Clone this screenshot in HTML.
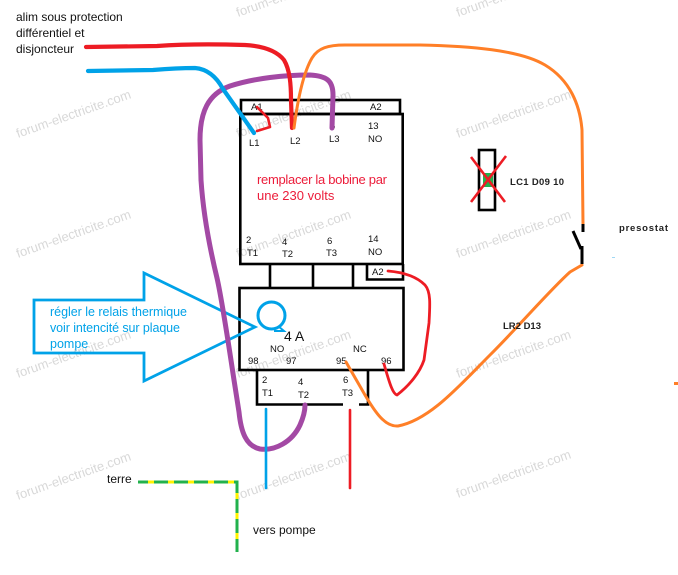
<!DOCTYPE html>
<html><head><meta charset="utf-8"><style>
html,body{margin:0;padding:0;background:#fff;width:678px;height:575px;overflow:hidden;}
svg{display:block;overflow:hidden;}
.wm{font-family:"Liberation Sans",sans-serif;font-size:13px;fill:#d8d8d8;}
.lb{font-family:"Liberation Sans",sans-serif;font-size:9.5px;fill:#111;}
</style></head><body>
<svg width="678" height="575" viewBox="0 0 678 575" xmlns="http://www.w3.org/2000/svg">
<rect width="678" height="575" fill="#fff"/>
<g class="wm">
<text transform="translate(18,138) rotate(-19.4)">forum-electricite.com</text>
<text transform="translate(18,258) rotate(-19.4)">forum-electricite.com</text>
<text transform="translate(18,378) rotate(-19.4)">forum-electricite.com</text>
<text transform="translate(18,500) rotate(-19.4)">forum-electricite.com</text>
<text transform="translate(238,17) rotate(-19.4)">forum-electricite.com</text>
<text transform="translate(238,138) rotate(-19.4)">forum-electricite.com</text>
<text transform="translate(238,258) rotate(-19.4)">forum-electricite.com</text>
<text transform="translate(238,378) rotate(-19.4)">forum-electricite.com</text>
<text transform="translate(238,500) rotate(-19.4)">forum-electricite.com</text>
<text transform="translate(458,17) rotate(-19.4)">forum-electricite.com</text>
<text transform="translate(458,138) rotate(-19.4)">forum-electricite.com</text>
<text transform="translate(458,258) rotate(-19.4)">forum-electricite.com</text>
<text transform="translate(458,378) rotate(-19.4)">forum-electricite.com</text>
<text transform="translate(458,498) rotate(-19.4)">forum-electricite.com</text>
</g>

<g font-family="Liberation Sans, sans-serif" font-size="12" fill="#111">
<text x="16" y="21">alim sous protection</text>
<text x="16" y="37">différentiel et</text>
<text x="16" y="53">disjoncteur</text>
<text x="107" y="483">terre</text>
<text x="253" y="534">vers pompe</text>
</g>

<g fill="none" stroke="#000" stroke-width="2.6">
<rect x="241" y="100" width="159" height="14"/>
<rect x="240.3" y="114" width="162.4" height="150"/>
<line x1="270" y1="264" x2="270" y2="288"/>
<line x1="313" y1="264" x2="313" y2="288"/>
<line x1="353" y1="264" x2="353" y2="288"/>
<polyline points="367,264 367,279.5 403,279.5 403,264"/>
<rect x="239.5" y="288" width="164" height="82"/>
<polyline points="257,370 257,404.5 343,404.5"/>
<polyline points="359,404.5 368,404.5 368,370"/>
</g>

<g class="lb">
<text x="251" y="110">A1</text>
<text x="370" y="110">A2</text>
<text x="249" y="146">L1</text>
<text x="290" y="144">L2</text>
<text x="329" y="142">L3</text>
<text x="330" y="129">5</text>
<text x="368" y="129">13</text>
<text x="368" y="142">NO</text>
<text x="246" y="243">2</text>
<text x="247" y="256">T1</text>
<text x="282" y="245">4</text>
<text x="282" y="257">T2</text>
<text x="327" y="244">6</text>
<text x="326" y="256">T3</text>
<text x="368" y="242">14</text>
<text x="368" y="255">NO</text>
<text x="372" y="275">A2</text>
<text x="270" y="352">NO</text>
<text x="353" y="352">NC</text>
<text x="248" y="364">98</text>
<text x="286" y="364">97</text>
<text x="336" y="364">95</text>
<text x="381" y="364">96</text>
<text x="262" y="383">2</text>
<text x="262" y="396">T1</text>
<text x="298" y="385">4</text>
<text x="298" y="398">T2</text>
<text x="343" y="383">6</text>
<text x="342" y="396">T3</text>
</g>
<text x="284" y="341" font-family="Liberation Sans, sans-serif" font-size="14" fill="#111">4 A</text>

<text font-family="Liberation Sans, sans-serif" font-size="13" fill="#ec1c3a">
<tspan x="257" y="184" textLength="130">remplacer la bobine par</tspan>
<tspan x="257" y="200">une 230 volts</tspan>
</text>

<polygon points="34,300 144,300 144,273 255,327 144,381 144,353 34,353" fill="none" stroke="#00a2e8" stroke-width="2.8" stroke-linejoin="miter"/>
<g font-family="Liberation Sans, sans-serif" font-size="12.5" fill="#00a2e8">
<text x="50" y="316" textLength="137">régler le relais thermique</text>
<text x="50" y="332" textLength="130">voir intencité sur plaque</text>
<text x="50" y="348">pompe</text>
</g>
<circle cx="271.5" cy="315.5" r="13.5" fill="none" stroke="#00a2e8" stroke-width="3"/>
<path d="M278,326 L284,331 L274,331" fill="none" stroke="#00a2e8" stroke-width="2"/>

<g fill="none" stroke-linecap="round" stroke-linejoin="round">
<path d="M332,128 L333,95 C333,80 326,76 310,75 C285,75 255,78 230,86 C208,94 200,112 200,140 L201,180 C203,210 209,245 217,278 C222,300 228,340 234,380 L239,412 C241,432 246,446 260,449 C275,451 292,442 300,425 C304,416 305,410 305,405" stroke="#a349a4" stroke-width="5"/>
<path d="M86,47 L157,46 C185,44 215,44 245,45 C262,46 276,50 284,60 C290,70 291,85 291,100 L292,128" stroke="#ed1c24" stroke-width="4.2"/>
<path d="M88,71 L153,70 C165,69 180,68 195,68 C207,69 216,76 223,89 L254,133" stroke="#00a2e8" stroke-width="4.2"/>
<path d="M294,128 C297,105 302,75 312,58 C318,48 328,45 345,45 L420,45 C470,46 520,50 545,65 C570,80 580,105 582,130 L583,224" stroke="#ff7f27" stroke-width="3"/>
<path d="M582,265 L570,272 C550,290 520,325 490,355 C460,385 430,420 398,426 C385,427 375,412 365,395 L346,362" stroke="#ff7f27" stroke-width="3"/>
<path d="M257,107 L268,118 L270,127 L257,131" stroke="#ed1c24" stroke-width="2.6"/>
<path d="M388,271 C400,272 415,275 425,285 C431,292 430,305 429,323 L424,360 C420,372 410,385 397,395 C393,394 390,385 384,364" stroke="#ed1c24" stroke-width="2.8"/>
<line x1="266" y1="409" x2="266" y2="488" stroke="#00a2e8" stroke-width="2.6"/>
<line x1="350" y1="410" x2="350" y2="488" stroke="#ed1c24" stroke-width="2.6"/>
</g>

<polyline points="138,482 237,482 237,552" fill="none" stroke="#22b14c" stroke-width="3"/>
<polyline points="138,482 237,482 237,552" fill="none" stroke="#fff200" stroke-width="3" stroke-dasharray="6 14" stroke-dashoffset="-10"/>

<g stroke="#000" stroke-width="3" fill="none">
<line x1="583" y1="224" x2="583" y2="232"/>
<line x1="573" y1="231" x2="581" y2="249"/>
<line x1="582" y1="246" x2="582" y2="264"/>
</g>
<text x="619" y="231" font-family="Liberation Sans, sans-serif" font-size="9.5" font-weight="bold" fill="#222" textLength="49">presostat</text>
<text x="503" y="329" font-family="Liberation Sans, sans-serif" font-size="9.5" font-weight="bold" fill="#222" textLength="38">LR2 D13</text>

<rect x="483" y="173" width="10" height="14" fill="#22b14c"/>
<rect x="479" y="150" width="16" height="60" fill="none" stroke="#000" stroke-width="2.6"/>
<g stroke="#ed1c24" stroke-width="2.6">
<line x1="471" y1="157" x2="505" y2="202"/>
<line x1="506" y1="156" x2="471" y2="202"/>
</g>
<text x="510" y="185" font-family="Liberation Sans, sans-serif" font-size="9.5" font-weight="bold" fill="#222" textLength="54">LC1 D09 10</text>

<rect x="612" y="257" width="3" height="1" fill="#9fd8f5"/>
<rect x="674" y="382" width="4" height="3" fill="#ff7f27"/>
</svg>
</body></html>
